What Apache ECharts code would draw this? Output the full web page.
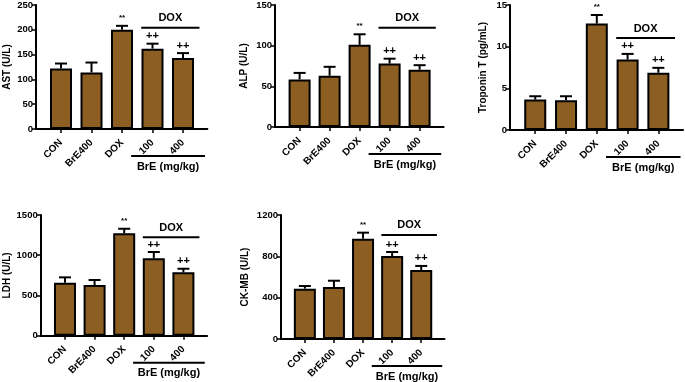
<!DOCTYPE html>
<html><head><meta charset="utf-8">
<script src="https://cdn.jsdelivr.net/npm/echarts@6/dist/echarts.min.js"></script>
<style>html,body{margin:0;padding:0;background:#fff}#c{width:685px;height:382px}</style>
</head><body><div id="c"></div>
<script>
// ---- data ----
const categories = ['CON', 'BrE400', 'DOX', '100', '400'];
const astMean = [122, 114, 200, 162, 143];
const astTop  = [132, 134, 208, 172, 153];
const alpMean = [58.5, 63, 101, 78, 70.5];
const alpTop  = [66.5, 74, 114, 84, 76];
const tropMean = [3.65, 3.57, 12.77, 8.45, 6.87];
const tropTop  = [4.05, 4.05, 13.8, 9.13, 7.46];
const ldhMean = [658, 630, 1272, 961, 787];
const ldhTop  = [725, 692, 1329, 1040, 832];
const ckMean = [487, 503, 971, 803, 668];
const ckTop  = [513, 564, 1029, 842, 707];
const marks = ['', '', '**', '++', '++'];
const groupLabel = 'DOX';
const doseLabel = 'BrE (mg/kg)';

// ---- layout ----
const panels = [
  {name: 'AST (U/L)', mean: astMean, top: astTop, max: 250, interval: 50, left: 36, gtop: 4, width: 171.4, height: 125, gap: 24, doxLevel: 204},
  {name: 'ALP (U/L)', mean: alpMean, top: alpTop, max: 150, interval: 50, left: 275, gtop: 4, width: 168.6, height: 123, gap: 26, doxLevel: 122},
  {name: 'Troponin T (pg/mL)', mean: tropMean, top: tropTop, max: 15, interval: 5, left: 510, gtop: 4, width: 173, height: 126, gap: 22, doxLevel: 11.04},
  {name: 'LDH (U/L)', mean: ldhMean, top: ldhTop, max: 1500, interval: 500, left: 40.7, gtop: 215, width: 166.4, height: 120.7, gap: 21, doxLevel: 1222},
  {name: 'CK-MB (U/L)', mean: ckMean, top: ckTop, max: 1200, interval: 400, left: 281, gtop: 215, width: 163.5, height: 124, gap: 31, doxLevel: 1007}
];
const FONT = '"Liberation Sans", Arial, sans-serif';
const barColor = '#8C5E22';

const grid = [], xAxis = [], yAxis = [], series = [];
panels.forEach((p, i) => {
  grid.push({left: p.left, top: p.gtop, width: p.width, height: p.height, containLabel: false});
  xAxis.push({
    type: 'value', gridIndex: i, min: -0.82, max: 4.8,
    splitLine: {show: false},
    axisLine: {show: true, onZero: false, lineStyle: {color: '#000', width: 2}},
    axisTick: {show: true, customValues: [0, 1, 2, 3, 4], length: 4, lineStyle: {color: '#000', width: 1.5}},
    axisLabel: {customValues: [0, 1, 2, 3, 4], formatter: v => categories[Math.round(v)], rotate: 45, margin: 12,
      fontFamily: FONT, fontWeight: 'bold', fontSize: 10, color: '#000'}
  });
  yAxis.push({
    type: 'value', gridIndex: i, min: 0, max: p.max, interval: p.interval,
    name: p.name, nameLocation: 'middle', nameGap: p.gap,
    nameTextStyle: {fontFamily: FONT, fontWeight: 'bold', fontSize: 10, color: '#000'},
    splitLine: {show: false},
    axisLine: {show: true, onZero: false, lineStyle: {color: '#000', width: 2}},
    axisTick: {show: true, length: 4, lineStyle: {color: '#000', width: 1.5}},
    axisLabel: {formatter: v => String(v), fontFamily: FONT, fontWeight: 'bold', fontSize: 9.5, color: '#000', margin: 3}
  });
  series.push({
    type: 'bar', xAxisIndex: i, yAxisIndex: i, barWidth: 22,
    data: p.mean.map((v, k) => [k, v]),
    itemStyle: {color: barColor, borderColor: '#000', borderWidth: 2},
    z: 2
  });
  series.push({
    type: 'custom', xAxisIndex: i, yAxisIndex: i, z: 3, clip: false,
    data: p.mean.map((v, k) => [k, v, p.top[k]]),
    renderItem: (params, api) => {
      const k = params.dataIndex;
      const a = api.coord([api.value(0), api.value(1)]);
      const b = api.coord([api.value(0), api.value(2)]);
      const st = {stroke: '#000', lineWidth: 2};
      const ch = [
        {type: 'line', shape: {x1: a[0], y1: a[1], x2: b[0], y2: b[1]}, style: st},
        {type: 'line', shape: {x1: b[0] - 6, y1: b[1], x2: b[0] + 6, y2: b[1]}, style: st}
      ];
      const m = marks[k];
      if (m) {
        const star = m === '**';
        ch.push({type: 'text', x: b[0], y: b[1] - (star ? 4 : 2), style: {text: m, align: 'center', verticalAlign: 'bottom',
          font: 'bold ' + (star ? 8 : 11) + 'px ' + FONT, fill: '#000'}});
      }
      return {type: 'group', children: ch};
    }
  });
  series.push({
    type: 'custom', xAxisIndex: i, yAxisIndex: i, z: 3, clip: false,
    data: [[2.63, p.doxLevel, 4.54, 2.3, 4.72]],
    renderItem: (params, api) => {
      const a = api.coord([api.value(0), api.value(1)]);
      const b = api.coord([api.value(2), api.value(1)]);
      const c = api.coord([api.value(3), 0]);
      const d = api.coord([api.value(4), 0]);
      const y2 = c[1] + 27;
      const st = {stroke: '#000', lineWidth: 2};
      return {type: 'group', children: [
        {type: 'line', shape: {x1: a[0], y1: a[1], x2: b[0], y2: b[1]}, style: st},
        {type: 'text', x: (a[0] + b[0]) / 2, y: a[1] - 4, style: {text: groupLabel, align: 'center', verticalAlign: 'bottom', font: 'bold 11px ' + FONT, fill: '#000'}},
        {type: 'line', shape: {x1: c[0], y1: y2, x2: d[0], y2: y2}, style: st},
        {type: 'text', x: (c[0] + d[0]) / 2, y: y2 + 5, style: {text: doseLabel, align: 'center', verticalAlign: 'top', font: 'bold 11px ' + FONT, fill: '#000'}}
      ]};
    }
  });
});

const chart = echarts.init(document.getElementById('c'), null, {renderer: 'canvas'});
chart.setOption({animation: false, backgroundColor: '#fff', grid, xAxis, yAxis, series});
</script></body></html>
